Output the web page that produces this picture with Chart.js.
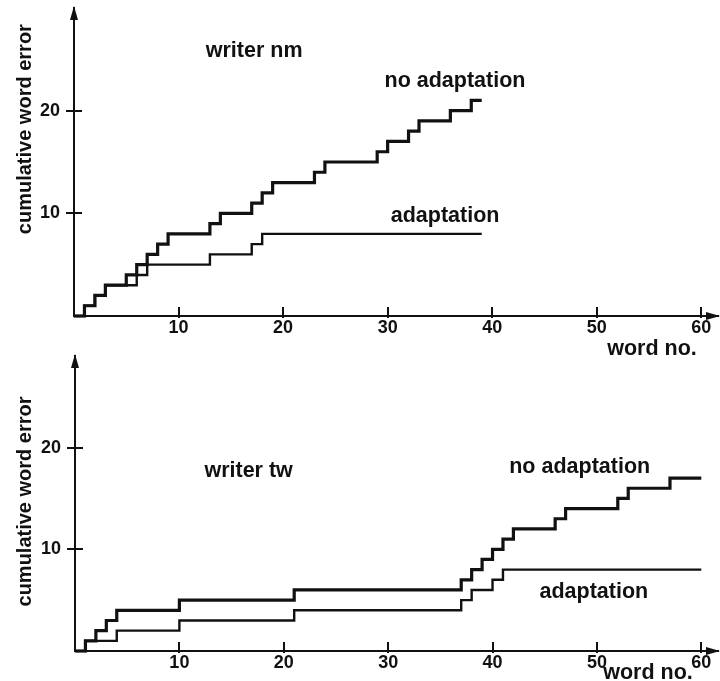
<!DOCTYPE html>
<html>
<head>
<meta charset="utf-8">
<script src="https://cdn.jsdelivr.net/npm/chart.js@4.4.1/dist/chart.umd.min.js"></script>
<style>
    body { margin: 0; background: #fff; }
    #wrap { position: relative; width: 720px; height: 681px; }
    canvas { position: absolute; left: 0; }
    #topChart { top: 0; }
    #bottomChart { top: 340px; }
</style>
</head>
<body>
<div id="wrap">
    <canvas id="bottomChart" width="720" height="341"></canvas>
    <canvas id="topChart" width="720" height="360"></canvas>
</div>
<script>
// writer nm (top panel)
const nmNoAdaptWords = [0, 1, 2, 3, 5, 6, 7, 8, 9, 13, 14, 17, 18, 19, 23, 24, 29, 30, 32, 33, 36, 38, 39];
const nmNoAdaptErrors = [0, 1, 2, 3, 4, 5, 6, 7, 8, 9, 10, 11, 12, 13, 14, 15, 16, 17, 18, 19, 20, 21, 21];
const nmAdaptWords = [0, 1, 2, 3, 6, 7, 13, 17, 18, 39];
const nmAdaptErrors = [0, 1, 2, 3, 4, 5, 6, 7, 8, 8];

// writer tw (bottom panel)
const twNoAdaptWords = [0, 1, 2, 3, 4, 10, 21, 37, 38, 39, 40, 41, 42, 46, 47, 52, 53, 57, 60];
const twNoAdaptErrors = [0, 1, 2, 3, 4, 5, 6, 7, 8, 9, 10, 11, 12, 13, 14, 15, 16, 17, 17];
const twAdaptWords = [0, 1, 4, 10, 21, 37, 38, 40, 41, 60];
const twAdaptErrors = [0, 1, 2, 3, 4, 5, 6, 7, 8, 8];

const xTickValues = [10, 20, 30, 40, 50, 60];
const yTickValues = [10, 20];

const ink = '#111';
const fontFamily = '"Liberation Sans", Arial, Helvetica, sans-serif';

function toPoints(words, errors) {
    return words.map((w, i) => ({ x: w, y: errors[i] }));
}

// axis arrows, crossing tick marks and the free text labels
const decorPlugin = {
    id: 'decor',
    afterDraw(chart, args, opts) {
        const { ctx, chartArea } = chart;
        const x = chart.scales.x, y = chart.scales.y;
        ctx.save();
        ctx.strokeStyle = ink;
        ctx.fillStyle = ink;
        ctx.lineWidth = 2;

        xTickValues.forEach(v => {
            const px = Math.round(x.getPixelForValue(v));
            ctx.beginPath();
            ctx.moveTo(px, chartArea.bottom - 9);
            ctx.lineTo(px, chartArea.bottom + 2);
            ctx.stroke();
        });
        yTickValues.forEach(v => {
            const py = Math.round(y.getPixelForValue(v));
            ctx.beginPath();
            ctx.moveTo(chartArea.left - 8, py);
            ctx.lineTo(chartArea.left + 8, py);
            ctx.stroke();
        });

        // arrow heads
        ctx.beginPath();
        ctx.moveTo(chartArea.left, chartArea.top - 2);
        ctx.lineTo(chartArea.left - 4, chartArea.top + 12);
        ctx.lineTo(chartArea.left + 4, chartArea.top + 12);
        ctx.closePath();
        ctx.fill();
        ctx.beginPath();
        ctx.moveTo(chartArea.right + 2, chartArea.bottom);
        ctx.lineTo(chartArea.right - 12, chartArea.bottom - 4);
        ctx.lineTo(chartArea.right - 12, chartArea.bottom + 4);
        ctx.closePath();
        ctx.fill();

        ctx.font = 'bold 21.5px ' + fontFamily;
        ctx.textBaseline = 'alphabetic';
        ctx.textAlign = 'left';
        (opts.notes || []).forEach(n => {
            ctx.fillText(n.text, x.getPixelForValue(n.x), y.getPixelForValue(n.y));
        });

        // y axis title
        ctx.font = 'bold 20px ' + fontFamily;
        ctx.translate(31, y.getPixelForValue(opts.titleAt));
        ctx.rotate(-Math.PI / 2);
        ctx.textAlign = 'center';
        ctx.fillText('cumulative word error', 0, 0);
        ctx.restore();
    }
};

function makeChart(canvasId, noAdapt, adapt, yMax, axisLeft, axisHeight, padTop, notes, titleAt) {
    return new Chart(document.getElementById(canvasId).getContext('2d'), {
        type: 'line',
        data: {
            datasets: [{
                label: 'no adaptation',
                data: noAdapt,
                borderColor: ink,
                borderWidth: 3.2,
                stepped: true,
                pointRadius: 0,
                fill: false,
                clip: false,
                borderJoinStyle: 'miter'
            }, {
                label: 'adaptation',
                data: adapt,
                borderColor: ink,
                borderWidth: 2.4,
                stepped: true,
                pointRadius: 0,
                fill: false,
                clip: false,
                borderJoinStyle: 'miter'
            }]
        },
        plugins: [decorPlugin],
        options: {
            responsive: false,
            animation: false,
            devicePixelRatio: 1,
            layout: { padding: { top: padTop, right: 2, left: 0, bottom: 0 } },
            scales: {
                x: {
                    type: 'linear',
                    min: 0,
                    max: 61.6,
                    grid: { display: false, drawTicks: false },
                    border: { display: true, color: ink, width: 2 },
                    ticks: {
                        padding: 1,
                        maxRotation: 0,
                        color: ink,
                        font: { size: 18, weight: 'bold', family: fontFamily }
                    },
                    afterBuildTicks: s => { s.ticks = xTickValues.map(v => ({ value: v })); },
                    afterFit: s => {
                        s.height = axisHeight;
                        s.paddingLeft = 0;
                        s.paddingRight = 0;
                    }
                },
                y: {
                    type: 'linear',
                    min: 0,
                    max: yMax,
                    grid: { display: false, drawTicks: false },
                    border: { display: true, color: ink, width: 2 },
                    ticks: {
                        padding: 14,
                        color: ink,
                        font: { size: 18, weight: 'bold', family: fontFamily }
                    },
                    afterBuildTicks: s => { s.ticks = yTickValues.map(v => ({ value: v })); },
                    afterFit: s => {
                        s.width = axisLeft;
                        s.paddingTop = 0;
                        s.paddingBottom = 0;
                    }
                }
            },
            plugins: {
                legend: { display: false },
                tooltip: { enabled: false },
                decor: { notes: notes, titleAt: titleAt }
            }
        }
    });
}

makeChart('topChart',
    toPoints(nmNoAdaptWords, nmNoAdaptErrors),
    toPoints(nmAdaptWords, nmAdaptErrors),
    30, 74, 44, 8,
    [
        { text: 'writer nm', x: 12.6, y: 25.2 },
        { text: 'no adaptation', x: 29.7, y: 22.3 },
        { text: 'adaptation', x: 30.3, y: 9.2 },
        { text: 'word no.', x: 51.0, y: -3.8 }
    ],
    18.2);

makeChart('bottomChart',
    toPoints(twNoAdaptWords, twNoAdaptErrors),
    toPoints(twAdaptWords, twAdaptErrors),
    29, 75, 30, 16,
    [
        { text: 'writer tw', x: 12.4, y: 17.1 },
        { text: 'no adaptation', x: 41.6, y: 17.5 },
        { text: 'adaptation', x: 44.5, y: 5.2 },
        { text: 'word no.', x: 50.6, y: -2.75 }
    ],
    14.7);
</script>
</body>
</html>
